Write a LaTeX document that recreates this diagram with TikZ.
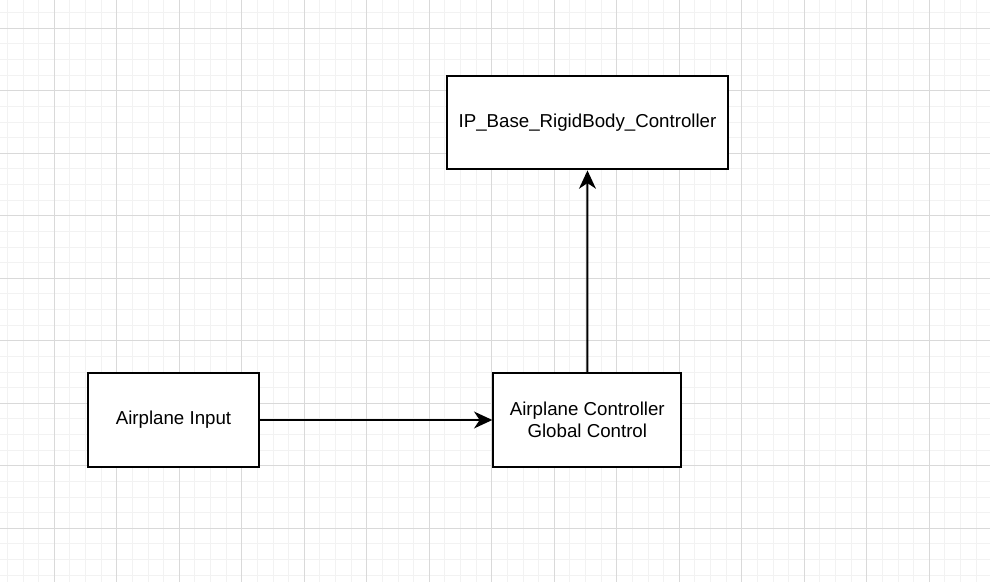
\documentclass[tikz,border=0pt]{standalone}
\usepackage{fontspec}
\setmainfont{Liberation Sans}
\usetikzlibrary{arrows.meta}
\tikzset{
  minorgrid/.style={draw=black!5, line width=0.7pt},
  majorgrid/.style={draw=black!15, line width=0.8pt},
  box/.style={draw, line width=1.4pt, fill=white, align=center, inner sep=0pt,
    font=\fontsize{13.3}{15.5}\selectfont},
  arr/.style={line width=1.4pt, -{Stealth[length=13pt,width=12pt,inset=4pt]}}
}
\begin{document}
\begin{tikzpicture}[x=0.025cm, y=-0.025cm]
\useasboundingbox (0,0) rectangle (990,582);
\fill[white] (0,0) rectangle (990,582);

% grid
\foreach \i in {0,...,63} {
  \draw[minorgrid] ({7.4+15.625*\i},0) -- ++(0,582);
}
\foreach \i in {0,...,37} {
  \draw[minorgrid] (0,{12.7+15.625*\i}) -- ++(990,0);
}
\foreach \i in {0,...,15} {
  \draw[majorgrid] ({54.3+62.5*\i},0) -- ++(0,582);
}
\foreach \i in {0,...,9} {
  \draw[majorgrid] (0,{28.3+62.5*\i}) -- ++(990,0);
}

\node[box, minimum width={171*0.025cm}, minimum height={93.5*0.025cm}] (input) at (173.5,420) {Airplane Input};
\node[box, minimum width={188*0.025cm}, minimum height={93.5*0.025cm}] (ctrl) at (587.3,420) {Airplane Controller\\Global Control};
\node[box, minimum width={281.6*0.025cm}, minimum height={93.5*0.025cm}] (ipbase) at (587.5,122.7) {IP\_Base\_RigidBody\_Controller};

\draw[arr] (input) -- (ctrl);
\draw[arr] (ctrl) -- (ipbase);
\end{tikzpicture}
\end{document}
